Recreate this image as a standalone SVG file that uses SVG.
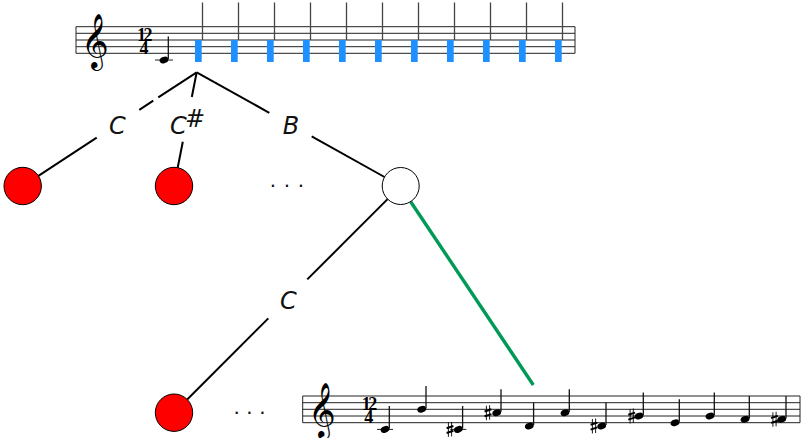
<svg xmlns="http://www.w3.org/2000/svg" xmlns:xlink="http://www.w3.org/1999/xlink" width="805" height="438" viewBox="0 0 805 438">
<style>
.staff line{stroke:#222;stroke-width:1}
.stem{stroke:#111;stroke-width:1.3}
.beat{stroke:#444;stroke-width:1.3}
.edge{stroke:#000;stroke-width:2;fill:none}
.lbl{font-family:"DejaVu Sans",sans-serif;font-style:italic;font-size:24px;fill:#111}
.dots{font-family:"Liberation Sans",sans-serif;font-size:22px;fill:#111;text-anchor:middle}
.clef{font-family:"DejaVu Sans","Noto Sans",serif;font-size:47px;fill:#000}
.ts{font-family:"Liberation Serif",serif;font-weight:bold;font-size:18px;fill:#000}
.leaf{fill:#ff0000;stroke:#000;stroke-width:1}
.inner{fill:#fff;stroke:#000;stroke-width:1}
.blue{fill:#1e90ff}
</style>
<defs>
<ellipse id="head" cx="0" cy="0" rx="4.5" ry="3.2" transform="rotate(-20)" fill="#000"/>
<g id="sharp" stroke="#000" fill="none">
<line x1="-1.6" y1="-7" x2="-1.6" y2="7.5" stroke-width="0.9"/>
<line x1="1.6" y1="-7.5" x2="1.6" y2="7" stroke-width="0.9"/>
<line x1="-3.4" y1="-1.2" x2="3.4" y2="-3.4" stroke-width="2"/>
<line x1="-3.4" y1="3.6" x2="3.4" y2="1.4" stroke-width="2"/>
</g>
</defs>

<g id="connectors">
<polyline class="edge" points="196.7,72.3 158.3,97.4"/>
<polyline class="edge" points="153.3,100.7 139.3,109.8"/>
<polyline class="edge" points="96.7,137.6 38.4,175.8"/>
<polyline class="edge" points="196.7,72.3 191.8,97"/>
<polyline class="edge" points="182.8,141.7 177.7,167.7"/>
<polyline class="edge" points="196.7,72.3 269.3,112.8"/>
<polyline class="edge" points="311.7,136.4 384.5,177"/>
<polyline class="edge" points="387.6,199.1 307.3,279.4"/>
<polyline class="edge" points="268.3,318.4 187.2,399.5"/>
<line x1="410.7" y1="201.7" x2="533.3" y2="385" stroke="#009a57" stroke-width="3.4"/>
<text class="lbl" x="117.5" y="134" text-anchor="middle">C</text>
<text class="lbl" x="170" y="134">C</text>
<text class="lbl" x="185" y="127" font-size="21">#</text>
<text class="lbl" x="291" y="134" text-anchor="middle">B</text>
<text class="lbl" x="288.3" y="309" text-anchor="middle">C</text>
</g>

<g id="score-top">
<g class="staff">
<line x1="76" y1="26.7" x2="575" y2="26.7"/>
<line x1="76" y1="33.3" x2="575" y2="33.3"/>
<line x1="76" y1="40" x2="575" y2="40"/>
<line x1="76" y1="46.7" x2="575" y2="46.7"/>
<line x1="76" y1="53.3" x2="575" y2="53.3"/>
<line x1="76" y1="26.7" x2="76" y2="53.3"/>
<line x1="575" y1="26.7" x2="575" y2="53.3"/>
</g>
<text class="clef" x="81" y="57">𝄞</text>
<text class="ts"><tspan x="137" y="40.5" letter-spacing="-2.5px">12</tspan><tspan x="139.5" y="53.5">4</tspan></text>
<line x1="155" y1="60" x2="173" y2="60" stroke="#222" stroke-width="1"/>
<use xlink:href="#head" x="164" y="60"/>
<line class="stem" x1="168.3" y1="36.6" x2="168.3" y2="59"/>
<g class="blue">
<rect x="195" y="40" width="6.7" height="22"/><rect x="231" y="40" width="6.7" height="22"/><rect x="267" y="40" width="6.7" height="22"/><rect x="303" y="40" width="6.7" height="22"/><rect x="339" y="40" width="6.7" height="22"/><rect x="375" y="40" width="6.7" height="22"/><rect x="411" y="40" width="6.7" height="22"/><rect x="447" y="40" width="6.7" height="22"/><rect x="483" y="40" width="6.7" height="22"/><rect x="519" y="40" width="6.7" height="22"/><rect x="555" y="40" width="6.7" height="22"/>
</g>
<g class="beat">
<line x1="202.5" y1="2.5" x2="202.5" y2="40"/><line x1="238.5" y1="2.5" x2="238.5" y2="40"/><line x1="274.5" y1="2.5" x2="274.5" y2="40"/><line x1="310.5" y1="2.5" x2="310.5" y2="40"/><line x1="346.5" y1="2.5" x2="346.5" y2="40"/><line x1="382.5" y1="2.5" x2="382.5" y2="40"/><line x1="418.5" y1="2.5" x2="418.5" y2="40"/><line x1="454.5" y1="2.5" x2="454.5" y2="40"/><line x1="490.5" y1="2.5" x2="490.5" y2="40"/><line x1="526.5" y1="2.5" x2="526.5" y2="40"/><line x1="562.5" y1="2.5" x2="562.5" y2="40"/>
</g>
</g>

<g id="leaf-c"><circle class="leaf" cx="22.7" cy="186" r="18.7"/></g>
<g id="leaf-csharp"><circle class="leaf" cx="174" cy="186" r="18.7"/></g>
<g id="dots-top"><text class="dots" x="273 287 301" y="192">···</text></g>
<g id="node-b"><circle class="inner" cx="400.7" cy="186" r="18.5"/></g>
<g id="leaf-bc"><circle class="leaf" cx="174" cy="412.7" r="18.7"/></g>
<g id="dots-bottom"><text class="dots" x="236.7 249.5 262.3" y="418.7">···</text></g>

<g id="score-bottom">
<g class="staff">
<line x1="302.7" y1="396" x2="800" y2="396"/>
<line x1="302.7" y1="402.7" x2="800" y2="402.7"/>
<line x1="302.7" y1="409.3" x2="800" y2="409.3"/>
<line x1="302.7" y1="416" x2="800" y2="416"/>
<line x1="302.7" y1="422.7" x2="800" y2="422.7"/>
<line x1="302.7" y1="396" x2="302.7" y2="422.7"/>
<line x1="800" y1="396" x2="800" y2="422.7"/>
</g>
<text class="clef" x="308" y="426.3">𝄞</text>
<text class="ts"><tspan x="361.7" y="409.8" letter-spacing="-2.5px">12</tspan><tspan x="364.2" y="422.9">4</tspan></text>
<g stroke="#222" stroke-width="1">
<line x1="377" y1="429.4" x2="393" y2="429.4"/>
<line x1="450.3" y1="429.4" x2="466.3" y2="429.4"/>
</g>
<g id="notes">
<use xlink:href="#head" x="385" y="429.4"/><line class="stem" x1="389.3" y1="406" x2="389.3" y2="428.5"/>
<use xlink:href="#head" x="421.7" y="409.3"/><line class="stem" x1="426" y1="386" x2="426" y2="408.5"/>
<use xlink:href="#sharp" x="450" y="429.4"/><use xlink:href="#head" x="458.3" y="429.4"/><line class="stem" x1="462.6" y1="406" x2="462.6" y2="428.5"/>
<use xlink:href="#sharp" x="488" y="412.7"/><use xlink:href="#head" x="496.7" y="412.7"/><line class="stem" x1="501" y1="389.3" x2="501" y2="411.8"/>
<use xlink:href="#head" x="529.3" y="426"/><line class="stem" x1="533.6" y1="402.6" x2="533.6" y2="425.1"/>
<use xlink:href="#head" x="565" y="412.7"/><line class="stem" x1="569.3" y1="389.3" x2="569.3" y2="411.8"/>
<use xlink:href="#sharp" x="594" y="426"/><use xlink:href="#head" x="601.7" y="426"/><line class="stem" x1="606" y1="402.6" x2="606" y2="425.1"/>
<use xlink:href="#sharp" x="631.7" y="416"/><use xlink:href="#head" x="639" y="416"/><line class="stem" x1="643.3" y1="392.6" x2="643.3" y2="415.1"/>
<use xlink:href="#head" x="675" y="422.7"/><line class="stem" x1="679.3" y1="399.3" x2="679.3" y2="421.8"/>
<use xlink:href="#head" x="710" y="416"/><line class="stem" x1="714.3" y1="392.6" x2="714.3" y2="415.1"/>
<use xlink:href="#head" x="745" y="419.3"/><line class="stem" x1="749.3" y1="395.9" x2="749.3" y2="418.4"/>
<use xlink:href="#sharp" x="774.5" y="419.3"/><use xlink:href="#head" x="781.7" y="419.3"/><line class="stem" x1="786" y1="395.9" x2="786" y2="418.4"/>
</g>
</g>
</svg>
